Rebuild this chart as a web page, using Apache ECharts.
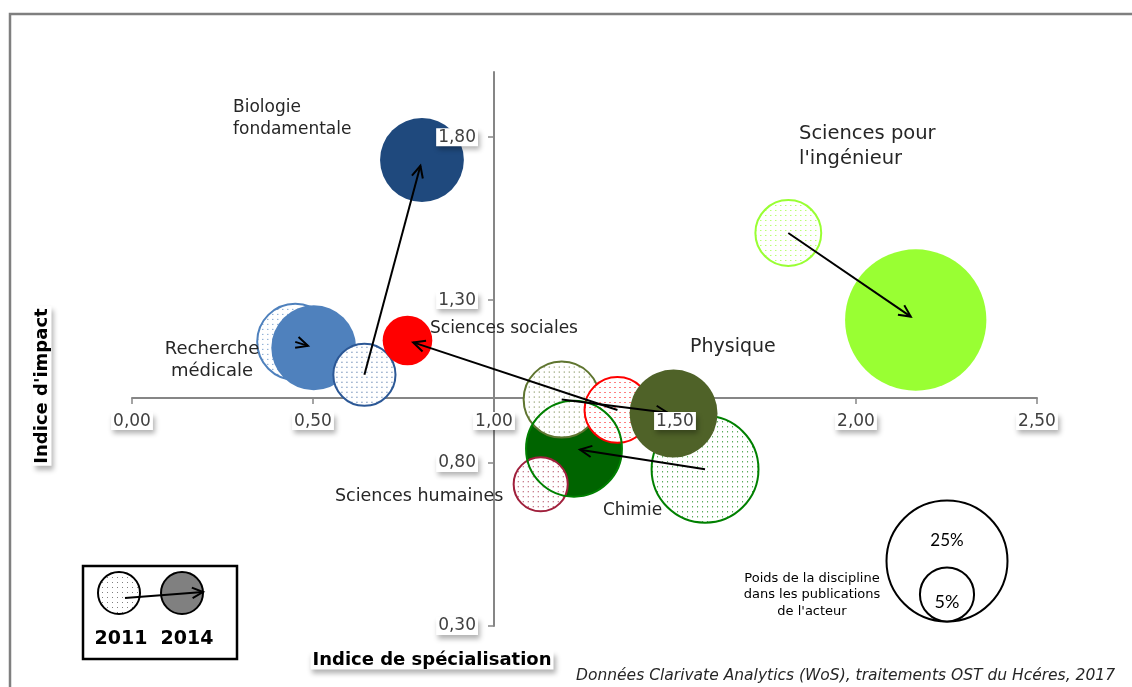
<!DOCTYPE html>
<html><head><meta charset="utf-8">
<script src="https://cdn.jsdelivr.net/npm/echarts@6/dist/echarts.min.js"></script>
<style>html,body{margin:0;padding:0;background:#fff}#c{width:1132px;height:687px}</style>
</head><body><div id="c"></div>
<script>
// ---------- data ----------
const disciplines = ['Recherche médicale','Biologie fondamentale','Sciences sociales','Chimie','Sciences humaines','Physique',"Sciences pour l'ingénieur"];
const spec2011   = [0.451, 0.642, 1.341, 1.583, 1.129, 1.187, 1.813];
const impact2011 = [1.172, 1.071, 0.963, 0.781, 0.735, 0.995, 1.506];
const weight2011 = [9.9, 6.6, 7.4, 19.5, 5.0, 9.9, 7.4];
const spec2014   = [0.502, 0.801, 0.761, 1.221, null, 1.496, 2.165];
const impact2014 = [1.154, 1.730, 1.176, 0.844, null, 0.952, 1.239];
const weight2014 = [12.3, 12.0, 4.2, 15.7, null, 13.2, 34.1];
const xTicks = [0, 0.5, 1, 1.5, 2, 2.5];
const yTicks = [0.3, 0.8, 1.3, 1.8];
const legendWeights = [25, 5];
const legendYears = ['2011', '2014'];

// ---------- style ----------
const FONT = 'DejaVu Sans';
const fill2014 = ['#4F81BD','#1F497D','#FF0000','#006400','#953735','#4F6228','#99FF33'];
const line2011 = ['#4F81BD','#2C5896','#FF0000','#008000','#A0203C','#5F7530','#99FF33'];
const ringChimie = '#008000';
const K = 12.1; // px radius per sqrt(%)
const X_MIN = 0, X_MAX = 2.5, Y_MIN = 0.3, Y_MAX = 2.0, CROSS = 1.0;
const W = 1132, H = 687;
const G = {left:132, right:95, top:72, bottom:61};
const gw = W - G.left - G.right, gh = H - G.top - G.bottom;
const xAxisOffset = -gh * (CROSS - Y_MIN) / (Y_MAX - Y_MIN);
const yAxisOffset = -gw * (CROSS - X_MIN) / (X_MAX - X_MIN);
// drawing order: [discipline index, year]
const drawOrder = [[0,2011],[0,2014],[1,2011],[1,2014],[2,2014],[3,2011],[3,2014],[4,2011],[5,2011],[2,2011],[5,2014],[6,2011],[6,2014]];

const bubbleSize = w => 2*K*Math.sqrt(w);
function dotPattern(color, scale){
  const c = document.createElement('canvas'); c.width = 5; c.height = 5;
  const g = c.getContext('2d');
  g.fillStyle = '#fff'; g.fillRect(0,0,5,5);
  g.fillStyle = color; g.fillRect(2,2,1,1);
  const p = {image: c, repeat: 'repeat'};
  if (scale) { p.scaleX = scale; p.scaleY = scale; }
  return p;
}
const fmt = v => v.toFixed(2).replace('.', ',');

// ---------- build series ----------
const bubbles = drawOrder.map(([i, yr]) => {
  if (yr === 2011) {
    return {name: disciplines[i] + ' 2011', value:[spec2011[i], impact2011[i], weight2011[i]],
      itemStyle:{color: dotPattern(line2011[i], 2/bubbleSize(weight2011[i])), opacity:1, borderColor: line2011[i], borderWidth: 2}};
  }
  return {name: disciplines[i] + ' 2014', value:[spec2014[i], impact2014[i], weight2014[i]],
    itemStyle:{color: fill2014[i], opacity:1, borderWidth: 0}};
});
// outline ring of Chimie 2014 drawn on top
const ci = disciplines.indexOf('Chimie');
bubbles.push({name:'Chimie 2014 contour', value:[spec2014[ci], impact2014[ci], weight2014[ci]],
  itemStyle:{color:'rgba(0,0,0,0)', opacity:1, borderColor: ringChimie, borderWidth: 2}});

const arrows = [];
disciplines.forEach((d, i) => {
  if (spec2014[i] != null) arrows.push([spec2011[i], impact2011[i], spec2014[i], impact2014[i]]);
});

function arrowShapes(s, e, h){
  const ang = Math.atan2(e[1]-s[1], e[0]-s[0]), a = Math.PI/7;
  const l1 = [e[0]-h*Math.cos(ang-a), e[1]-h*Math.sin(ang-a)];
  const l2 = [e[0]-h*Math.cos(ang+a), e[1]-h*Math.sin(ang+a)];
  return [
    {type:'line', shape:{x1:s[0],y1:s[1],x2:e[0],y2:e[1]}, style:{stroke:'#000', lineWidth:2}},
    {type:'polyline', shape:{points:[l1,e,l2]}, style:{stroke:'#000', lineWidth:2, fill:null}}
  ];
}

const labelBox = {backgroundColor:'#fff', padding:[1,2,0,2], shadowColor:'rgba(0,0,0,0.3)', shadowBlur:5, shadowOffsetX:2, shadowOffsetY:4};
const axisCommon = {type:'value', splitLine:{show:false}};
const lineStyle = {color:'#868686', width:2};

const txt = (text, x, y, o) => ({type:'text', x, y, z:50, style:Object.assign({text, fill:'#262626', fontFamily:FONT, fontSize:17, align:'left', verticalAlign:'top'}, o||{})});

// size legend geometry
const lgBottom = 621.5, lgX = 947;
const rBig = K*Math.sqrt(legendWeights[0]), rSmall = K*Math.sqrt(legendWeights[1]);

const option = {
  animation:false,
  grid:{left:G.left, right:G.right, top:G.top, bottom:G.bottom},
  xAxis:[
    Object.assign({}, axisCommon, {position:'bottom', min:X_MIN, max:X_MAX, offset:xAxisOffset, z:1,
      axisLine:{show:true, onZero:false, lineStyle}, axisTick:{show:true, length:6, lineStyle:{color:'#868686', width:1.5}, customValues:xTicks},
      axisLabel:{show:false}}),
    Object.assign({}, axisCommon, {position:'bottom', min:X_MIN, max:X_MAX, offset:xAxisOffset, z:10,
      axisLine:{show:false, onZero:false}, axisTick:{show:false},
      axisLabel:Object.assign({show:true, customValues:xTicks, formatter:fmt, fontSize:17, fontFamily:FONT, color:'#404040', margin:14}, labelBox)})
  ],
  yAxis:[
    Object.assign({}, axisCommon, {position:'left', min:Y_MIN, max:Y_MAX, offset:yAxisOffset, z:1,
      axisLine:{show:true, onZero:false, lineStyle}, axisTick:{show:true, length:6, lineStyle:{color:'#868686', width:1.5}, customValues:yTicks},
      axisLabel:{show:false}}),
    Object.assign({}, axisCommon, {position:'left', min:Y_MIN, max:Y_MAX, offset:yAxisOffset, z:10,
      axisLine:{show:false, onZero:false}, axisTick:{show:false},
      axisLabel:Object.assign({show:true, customValues:yTicks, formatter:fmt, fontSize:17, fontFamily:FONT, color:'#404040', margin:16}, labelBox)})
  ],
  series:[
    {type:'scatter', xAxisIndex:0, yAxisIndex:0, z:2, data:bubbles,
      symbolSize: v => bubbleSize(v[2]), emphasis:{disabled:true}, silent:true},
    {type:'custom', xAxisIndex:0, yAxisIndex:0, z:5, data:arrows, encode:{x:[0,2], y:[1,3]}, silent:true,
      renderItem(params, api){
        const p1 = api.coord([api.value(0), api.value(1)]);
        const p2 = api.coord([api.value(2), api.value(3)]);
        const dx = p2[0]-p1[0], dy = p2[1]-p1[1], L = Math.hypot(dx,dy);
        const e = [p2[0]-dx/L*6, p2[1]-dy/L*6];
        return {type:'group', children: arrowShapes(p1, e, 13)};
      }}
  ],
  graphic:[
    {type:'rect', z:0, shape:{x:10, y:14, width:1300, height:900}, style:{fill:null, stroke:'#7F7F7F', lineWidth:2.5}},
    // category labels
    txt('Biologie\nfondamentale', 233, 97, {lineHeight:22}),
    txt("Sciences pour\nl'ingénieur", 799, 121, {fontSize:19.5, lineHeight:25}),
    txt('Recherche\nmédicale', 212, 338, {fontSize:18, align:'center', lineHeight:22}),
    txt('Sciences sociales', 430, 329, {verticalAlign:'middle'}),
    txt('Physique', 690, 347, {fontSize:19, verticalAlign:'middle'}),
    txt('Sciences humaines', 335, 496, {fontSize:17.5, verticalAlign:'middle'}),
    txt('Chimie', 603, 511, {verticalAlign:'middle'}),
    // axis titles
    {type:'text', x:42, y:386, rotation:Math.PI/2, z:50, style:Object.assign({text:"Indice d'impact", fontFamily:FONT, fontWeight:'bold', fontSize:18, fill:'#000', align:'center', verticalAlign:'middle'}, labelBox)},
    {type:'text', x:432, y:660, z:50, style:Object.assign({text:'Indice de spécialisation', fontFamily:FONT, fontWeight:'bold', fontSize:18, fill:'#000', align:'center', verticalAlign:'middle'}, labelBox)},
    txt('Données Clarivate Analytics (WoS), traitements OST du Hcéres, 2017', 1115, 676, {fontSize:15.5, fontStyle:'italic', align:'right', verticalAlign:'middle', fill:'#262626'}),
    // size legend
    {type:'circle', z:40, shape:{cx:lgX, cy:lgBottom-rBig, r:rBig}, style:{fill:'#fff', stroke:'#000', lineWidth:2}},
    {type:'circle', z:41, shape:{cx:lgX, cy:lgBottom-rSmall, r:rSmall}, style:{fill:'#fff', stroke:'#000', lineWidth:2}},
    txt(legendWeights[0]+'%', lgX, 541, {fontFamily:'Lato', fontSize:17, align:'center', verticalAlign:'middle', fill:'#000'}),
    txt(legendWeights[1]+'%', lgX, 602, {fontFamily:'Lato', fontSize:18, align:'center', verticalAlign:'middle', fill:'#000'}),
    txt('Poids de la discipline\ndans les publications\nde l\'acteur', 812, 595, {fontSize:13, lineHeight:16.5, align:'center', verticalAlign:'middle', fill:'#000'}),
    // year legend box
    {type:'rect', z:40, shape:{x:83, y:566, width:154, height:93}, style:{fill:'#fff', stroke:'#000', lineWidth:2.5}},
    {type:'circle', z:41, shape:{cx:119, cy:593, r:21}, style:{fill:dotPattern('#7F7F7F'), stroke:'#000', lineWidth:2}},
    {type:'circle', z:41, shape:{cx:182, cy:593, r:21}, style:{fill:'#808080', stroke:'#000', lineWidth:2}},
    {type:'group', z:42, children: arrowShapes([125,598],[203,592],12).map(o => Object.assign(o, {z:42}))},
    txt(legendYears.join('  '), 154, 639, {fontSize:19, fontWeight:'bold', align:'center', verticalAlign:'middle', fill:'#000'})
  ]
};
echarts.init(document.getElementById('c'), null, {renderer:'canvas'}).setOption(option);
</script></body></html>
